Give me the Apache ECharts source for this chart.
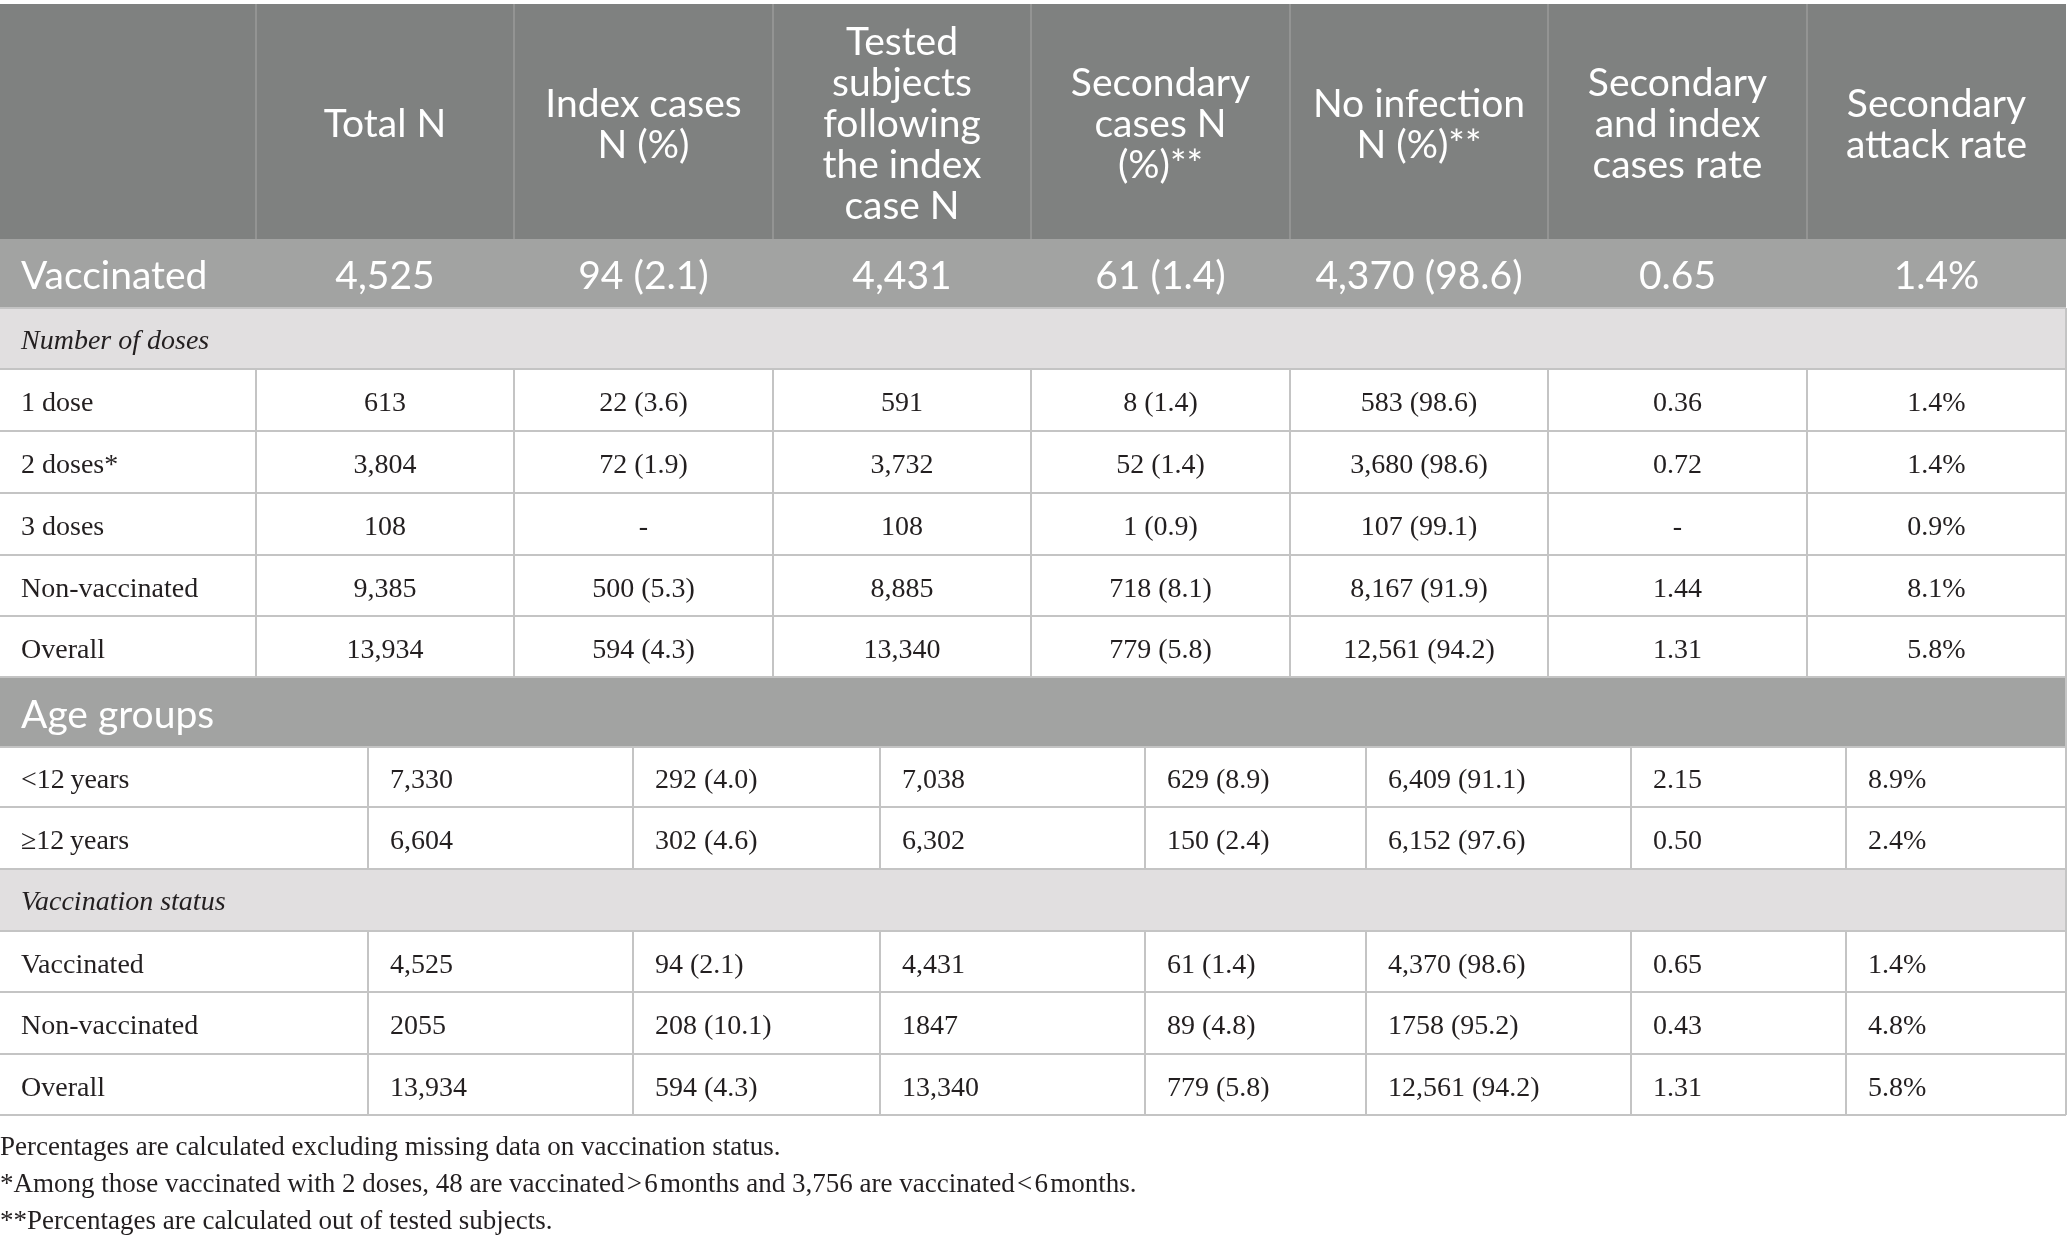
<!DOCTYPE html>
<html>
<head>
<meta charset="utf-8">
<style>
html, body { margin: 0; padding: 0; background: #fff; }
#main { width: 2068px; height: 1244px; }
</style>
<script src="https://cdn.jsdelivr.net/npm/echarts@6/dist/echarts.min.js"></script>
</head>
<body>
<div id="main"></div>
<script>
// table contents
var headers = ['', 'Total N', 'Index cases\nN (%)', 'Tested\nsubjects\nfollowing\nthe index\ncase N',
  'Secondary\ncases N\n(%)**', 'No infection\nN (%)**', 'Secondary\nand index\ncases rate', 'Secondary\nattack rate'];
var vaccinatedTotals = ['Vaccinated', '4,525', '94 (2.1)', '4,431', '61 (1.4)', '4,370 (98.6)', '0.65', '1.4%'];
var doseLabel = 'Number of doses';
var doseRows = [
  ['1 dose', '613', '22 (3.6)', '591', '8 (1.4)', '583 (98.6)', '0.36', '1.4%'],
  ['2 doses*', '3,804', '72 (1.9)', '3,732', '52 (1.4)', '3,680 (98.6)', '0.72', '1.4%'],
  ['3 doses', '108', '-', '108', '1 (0.9)', '107 (99.1)', '-', '0.9%'],
  ['Non-vaccinated', '9,385', '500 (5.3)', '8,885', '718 (8.1)', '8,167 (91.9)', '1.44', '8.1%'],
  ['Overall', '13,934', '594 (4.3)', '13,340', '779 (5.8)', '12,561 (94.2)', '1.31', '5.8%']
];
var ageLabel = 'Age groups';
var ageRows = [
  ['<12\u2009years', '7,330', '292 (4.0)', '7,038', '629 (8.9)', '6,409 (91.1)', '2.15', '8.9%'],
  ['\u226512\u2009years', '6,604', '302 (4.6)', '6,302', '150 (2.4)', '6,152 (97.6)', '0.50', '2.4%']
];
var statusLabel = 'Vaccination status';
var statusRows = [
  ['Vaccinated', '4,525', '94 (2.1)', '4,431', '61 (1.4)', '4,370 (98.6)', '0.65', '1.4%'],
  ['Non-vaccinated', '2055', '208 (10.1)', '1847', '89 (4.8)', '1758 (95.2)', '0.43', '4.8%'],
  ['Overall', '13,934', '594 (4.3)', '13,340', '779 (5.8)', '12,561 (94.2)', '1.31', '5.8%']
];
var footnotes = [
  'Percentages are calculated excluding missing data on vaccination status.',
  '*Among those vaccinated with 2 doses, 48 are vaccinated\u200a>\u200a6\u200amonths and 3,756 are vaccinated\u200a<\u200a6\u200amonths.',
  '**Percentages are calculated out of tested subjects.'
];

// layout (table units)
var tableW = 2066;
var topEdges = [0, 256, 514, 773, 1031, 1290, 1548, 1807, tableW];
var lowEdges = [0, 368, 633, 880, 1145, 1366, 1631, 1846, tableW];
var rowH = [235, 69, 61, 62, 62, 62, 61, 61, 70, 60, 62, 62, 61, 62, 61];
var rowTop = [0];
rowH.forEach(function (h, i) { rowTop.push(rowTop[i] + h); });
var tableH = rowTop[rowTop.length - 1];

var SANS = 'Lato';
var SERIF = '"Liberation Serif"';
var HEAD_BG = '#7f8180', MID_BG = '#a2a3a2', LIGHT_BG = '#e1dfe0';
var INK = '#231f20', RULE = '#c4c4c4';

var cellInfo = [], cellData = [];
function addCell(r, x0, x1, opt) {
  cellInfo.push(opt);
  cellData.push([x0, x1, rowTop[r], rowTop[r + 1], cellInfo.length - 1]);
}
var lineData = [];
function addLine(x0, y0, x1, y1, color, w) {
  lineData.push([x0, y0, x1, y1, w, color === RULE ? 0 : 1]);
}

// header
addCell(0, 0, tableW, { fill: HEAD_BG });
headers.forEach(function (t, c) {
  addCell(0, topEdges[c], topEdges[c + 1], { text: t, font: '39px ' + SANS, color: '#fff', align: 'center', lh: 41, dy: 3 });
  if (c > 0) addLine(topEdges[c], rowTop[0], topEdges[c], rowTop[1], '#9a9b9a', 1.5);
});
// vaccinated summary row
addCell(1, 0, tableW, { fill: MID_BG });
vaccinatedTotals.forEach(function (t, c) {
  addCell(1, topEdges[c], topEdges[c + 1], { text: t, font: '39px ' + SANS, color: '#fff', align: c ? 'center' : 'left', pad: 21, dy: 3 });
});
// number of doses
addCell(2, 0, tableW, { fill: LIGHT_BG, text: doseLabel, font: 'italic 28px ' + SERIF, color: INK, align: 'left', pad: 21, dy: 3 });
doseRows.forEach(function (row, i) {
  var r = 3 + i;
  row.forEach(function (t, c) {
    addCell(r, topEdges[c], topEdges[c + 1], { text: t, font: '28px ' + SERIF, color: INK, align: c ? 'center' : 'left', pad: 21, dy: 4 });
    if (c > 0) addLine(topEdges[c], rowTop[r], topEdges[c], rowTop[r + 1], RULE, 2);
  });
});
// age groups
addCell(8, 0, tableW, { fill: MID_BG, text: ageLabel, font: '39px ' + SANS, color: '#fff', align: 'left', pad: 21, dy: 3 });
function lowRows(rows, start) {
  rows.forEach(function (row, i) {
    var r = start + i;
    row.forEach(function (t, c) {
      addCell(r, lowEdges[c], lowEdges[c + 1], { text: t, font: '28px ' + SERIF, color: INK, align: 'left', pad: c ? 22 : 21, dy: 4 });
      if (c > 0) addLine(lowEdges[c], rowTop[r], lowEdges[c], rowTop[r + 1], RULE, 2);
    });
  });
}
lowRows(ageRows, 9);
addCell(11, 0, tableW, { fill: LIGHT_BG, text: statusLabel, font: 'italic 28px ' + SERIF, color: INK, align: 'left', pad: 21, dy: 3 });
lowRows(statusRows, 12);

// horizontal rules
for (var r = 2; r < rowTop.length; r++) {
  addLine(0, rowTop[r], tableW, rowTop[r], RULE, 2);
}
addLine(tableW, rowTop[2], tableW, tableH, RULE, 2);

var chart = echarts.init(document.getElementById('main'));
var option = {
  animation: false,
  grid: { left: 0, top: 4, width: tableW, height: tableH },
  xAxis: { type: 'value', min: 0, max: tableW, show: false },
  yAxis: { type: 'value', min: 0, max: tableH, inverse: true, show: false },
  title: {
    text: footnotes.join('\n'),
    left: 0, top: 1129, padding: 0,
    textStyle: { fontFamily: 'Liberation Serif', fontSize: 27, fontWeight: 'normal', lineHeight: 37, color: INK }
  },
  series: [{
    type: 'custom',
    data: cellData,
    renderItem: function (params, api) {
      var c = cellInfo[api.value(4)];
      var p0 = api.coord([api.value(0), api.value(2)]);
      var p1 = api.coord([api.value(1), api.value(3)]);
      var kids = [];
      if (c.fill) {
        kids.push({ type: 'rect', shape: { x: p0[0], y: p0[1], width: p1[0] - p0[0], height: p1[1] - p0[1] }, style: { fill: c.fill } });
      }
      if (c.text) {
        kids.push({
          type: 'text',
          style: {
            text: c.text,
            x: c.align === 'left' ? p0[0] + c.pad : (p0[0] + p1[0]) / 2,
            y: (p0[1] + p1[1]) / 2 + (c.dy || 0),
            align: c.align, verticalAlign: 'middle',
            font: c.font, fill: c.color, lineHeight: c.lh
          }
        });
      }
      return { type: 'group', children: kids };
    }
  }, {
    type: 'custom',
    data: lineData,
    renderItem: function (params, api) {
      var a = api.coord([api.value(0), api.value(1)]);
      var b = api.coord([api.value(2), api.value(3)]);
      return {
        type: 'line',
        shape: { x1: a[0], y1: a[1], x2: b[0], y2: b[1] },
        style: { stroke: api.value(5) ? '#9a9b9a' : RULE, lineWidth: api.value(4) }
      };
    }
  }]
};
chart.setOption(option);
</script>
</body>
</html>
